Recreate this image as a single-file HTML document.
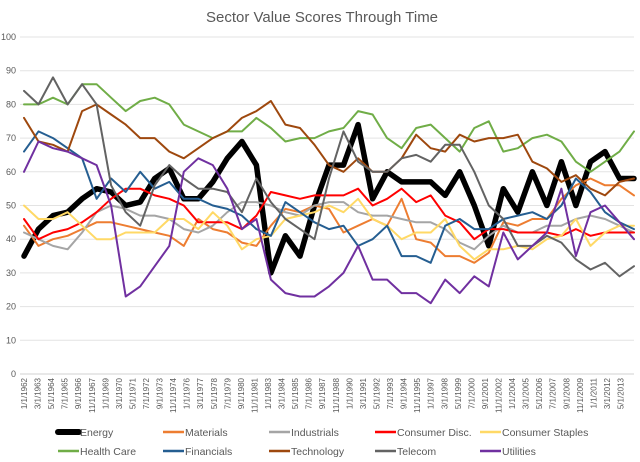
<!DOCTYPE html>
<html><head><meta charset="utf-8"><style>
html,body{margin:0;padding:0;background:#fff;}
svg{display:block;font-family:"Liberation Sans",sans-serif;}
</style></head><body>
<svg id="chart" width="640" height="462" viewBox="0 0 640 462">
<text x="322" y="22" text-anchor="middle" font-size="15" fill="#595959">Sector Value Scores Through Time</text>
<g id="grid"></g>
<g id="yaxis"></g>
<g id="xaxis"></g>
<g id="series"></g>
<g id="legend"></g>
</svg>
<script>
const yTicks = [0,10,20,30,40,50,60,70,80,90,100];
const startYear = 1962;
const stepYears = 1.25;
const energy = [35,43,47,48,52,55,54,50,51,58,61,52,52,57,64,69,62,30,41,35,50,62,62,74,52,60,57,57,57,53,60,50,38,55,48,60,50,63,50,63,66,58,58];
const materials = [44,38,40,41,43,45,45,44,43,42,41,38,46,43,42,39,38,44,49,48,50,49,42,44,46,44,52,40,39,35,35,33,36,45,44,46,46,52,56,58,56,56,53];
const industrials = [42,40,38,37,42,48,50,49,47,47,46,43,42,44,48,51,51,50,48,47,50,51,51,48,47,47,46,45,45,43,39,37,41,44,42,42,44,44,46,47,46,44,42];
const consumerDisc = [46,40,42,43,45,48,52,55,55,53,52,50,45,45,45,43,47,54,53,52,53,53,53,55,50,52,55,51,53,47,45,40,43,43,42,42,42,41,43,41,42,42,42];
const consumerStaples = [50,46,46,48,44,40,40,42,42,42,46,46,43,48,44,37,40,41,46,47,48,50,48,52,46,44,40,42,42,46,38,34,37,37,38,37,40,41,46,38,42,44,44];
const healthCare = [80,80,82,80,86,86,82,78,81,82,80,74,72,70,72,72,76,73,69,70,70,72,73,78,77,70,67,73,74,70,66,73,75,66,67,70,71,69,63,60,63,66,72];
const financials = [66,72,70,67,64,52,58,54,60,55,57,52,52,50,49,47,43,41,51,48,45,43,44,38,40,44,35,35,33,44,46,43,43,46,47,48,46,50,58,54,48,45,43];
const technology = [76,69,68,66,78,80,77,74,70,70,66,64,67,70,72,76,78,81,74,73,68,62,60,64,60,60,64,71,67,66,71,69,70,70,71,63,61,57,59,55,53,57,58];
const telecom = [84,80,88,80,86,80,56,48,44,56,62,58,55,55,54,48,58,51,46,43,40,58,72,63,60,60,64,65,63,68,68,60,50,46,38,38,41,39,34,31,33,29,32];
const utilities = [60,69,67,66,64,62,50,23,26,32,38,60,64,62,55,43,46,28,24,23,23,26,30,38,28,28,24,24,21,28,24,29,26,42,34,38,42,55,35,48,50,45,40];
const seriesNames = ["Energy","Materials","Industrials","Consumer Disc.","Consumer Staples","Health Care","Financials","Technology","Telecom","Utilities"];
const seriesData = [energy,materials,industrials,consumerDisc,consumerStaples,healthCare,financials,technology,telecom,utilities];
const seriesColors = ["#000000","#ED7D31","#A5A5A5","#FF0000","#FFD966","#70AD47","#255E91","#9E480E","#636363","#7030A0"];
const seriesWidths = [5.5,2,2,2,2,2,2,2,2,2];
const NS = "http://www.w3.org/2000/svg";
const X0 = 24, PXPERYEAR = 11.62, Y0 = 374, PXPERUNIT = 3.37;
function xScale(year){ return X0 + (year - startYear) * PXPERYEAR; }
function yScale(v){ return Y0 - v * PXPERUNIT; }
function mk(tag, attrs, parent){ const e=document.createElementNS(NS,tag); for(const k in attrs) e.setAttribute(k,attrs[k]); parent.appendChild(e); return e; }
const grid=document.getElementById('grid'), yaxis=document.getElementById('yaxis'), xaxis=document.getElementById('xaxis'), series=document.getElementById('series'), legend=document.getElementById('legend');
yTicks.forEach(t=>{
  const y=yScale(t);
  const l=mk('line',{x1:20,x2:634,y1:y,y2:y,stroke:t===0?'#d0d0d0':'#e3e3e3','stroke-width':1},grid);
  
  
  const tx=mk('text',{x:16,y:y+3,'text-anchor':'end','font-size':9,fill:'#595959'},yaxis);
  tx.textContent=t;
  
  
});
for(let m=0;m<=616;m+=14){
  const yr=startYear+Math.floor(m/12), mo=(m%12)+1;
  const x=xScale(startYear+m/12);
  const tx=mk('text',{transform:`translate(${x+3},378) rotate(-90)`,'text-anchor':'end','font-size':8,fill:'#595959'},xaxis);
  tx.textContent=mo+'/1/'+yr;
  
  
}
seriesData.forEach((arr,si)=>{
  const pts=arr.map((v,i)=>xScale(startYear+i*stepYears).toFixed(1)+','+yScale(v).toFixed(1)).join(' ');
  const p=mk('polyline',{points:pts,fill:'none',stroke:seriesColors[si],'stroke-width':seriesWidths[si],'stroke-linejoin':'round','stroke-linecap':'round'},series);
  
  
});
const legX=[58,163,269,375,480], legY=[436,455];
seriesNames.forEach((n,i)=>{
  const r=Math.floor(i/5), c=i%5;
  const g=mk('g',{},legend);
  
  
  mk('line',{x1:legX[c],x2:legX[c]+21,y1:legY[r]-4,y2:legY[r]-4,stroke:seriesColors[i],'stroke-width':i===0?6:2.5,'stroke-linecap':i===0?'round':'butt'},g);
  const t=mk('text',{x:legX[c]+22,y:legY[r],'font-size':10.5,fill:'#595959'},g);
  t.textContent=n;
});
</script>
</body></html>
